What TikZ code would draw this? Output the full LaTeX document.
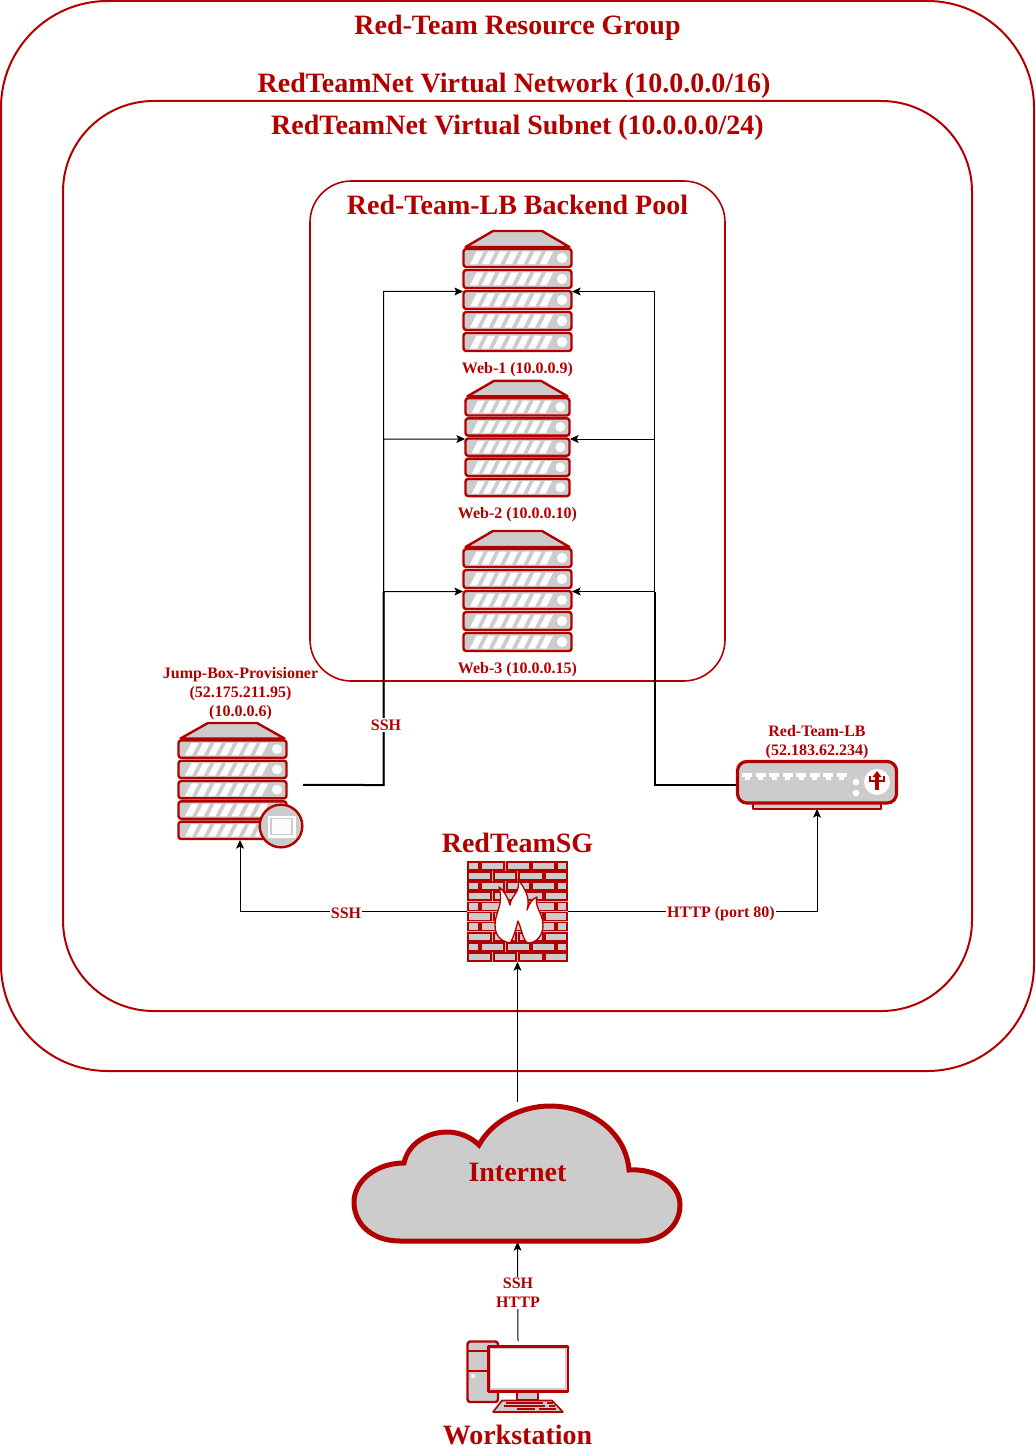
\documentclass[tikz,border=0pt]{standalone}
\usepackage{fontspec}
\setmainfont{Liberation Serif}
\usetikzlibrary{arrows.meta,positioning}
\definecolor{TeamRed}{HTML}{B20000}
\definecolor{IconGrey}{HTML}{CCCCCC}

\tikzset{
  Group/.style={draw=TeamRed, line width=1.5pt},
  Title/.style={text=TeamRed, font=\bfseries\fontsize{21}{25}\selectfont, inner sep=0pt},
  BigLabel/.style={text=TeamRed, font=\bfseries\fontsize{21}{25}\selectfont, inner sep=0pt},
  SmallLabel/.style={text=TeamRed, font=\bfseries\fontsize{12}{14.25}\selectfont, align=center, inner sep=0pt},
  LinkLabel/.style={SmallLabel, fill=white, inner sep=1pt},
  IconBox/.style={inner sep=0pt, outer sep=0pt},
  Icon/.style={draw=TeamRed, fill=IconGrey, line width=1.8pt, line join=round},
  Link/.style={draw=black, line width=.75pt, -{Stealth[length=6.5pt, width=6pt, inset=1.5pt]}},
  Trunk/.style={draw=black, line width=1.5pt},
  rack/.pic={
    \draw[Icon] (-24.5,-60.5) -- (24.5,-60.5) -- (52,-44.5) -- (-52,-44.5) -- cycle;
    \foreach \y in {-42.5,-21.5,-0.5,20.5,41.5} {
      \draw[Icon, rounded corners=2pt] (-54,\y) rectangle (54,\y+18);
      \fill[white] (44.5,\y+9) circle (3.8pt);
      \foreach \x in {0,...,6}
        \fill[white] (-47.5+11.6*\x,\y+15.5) -- ++(7,0) -- ++(6.5,-13) -- ++(-7,0) -- cycle;
    }
  },
}

\begin{document}
\begin{tikzpicture}[x=.75pt, y=-.75pt]
  \useasboundingbox (0,0) rectangle (1035,1451);

  % containers
  \draw[Group, rounded corners=80pt] (1,1) rectangle (1034,1071);
  \draw[Group, rounded corners=68pt] (63,101) rectangle (972,1011);
  \draw[Group, line width=1.2pt, rounded corners=31pt] (310,181) rectangle (725,681);

  \node[Title] (rgtitle) at (517.5,28) {Red-Team Resource Group};
  \node[Title] (nettitle) at (514,86) {RedTeamNet Virtual Network (10.0.0.0/16)};
  \node[Title] (subtitle) at (517.5,128) {RedTeamNet Virtual Subnet (10.0.0.0/24)};
  \node[Title] (pooltitle) at (517.5,205) {Red-Team-LB Backend Pool};

  % icon boxes
  \node[IconBox, minimum width=81.75pt, minimum height=90.75pt] (web1) at (517.5,291.5) {};
  \node[IconBox, minimum width=78.75pt, minimum height=87pt] (web2) at (517.5,439) {};
  \node[IconBox, minimum width=81.75pt, minimum height=90.75pt] (web3) at (517.5,591.5) {};
  \node[IconBox, minimum width=94.5pt, minimum height=87.75pt] (jump) at (240,781.5) {};
  \node[IconBox, minimum width=120pt, minimum height=36pt] (lb) at (817,785) {};
  \node[IconBox, minimum width=75.75pt, minimum height=75.75pt] (fwall) at (517.5,911.5) {};
  \node[IconBox, minimum width=247.5pt, minimum height=103.5pt] (cloud) at (517.5,1173) {};
  \node[IconBox, minimum width=76.5pt, minimum height=53.25pt] (wkst) at (518,1376.5) {};

  \coordinate (sshbus) at (383.5,785);
  \coordinate (lbbus) at (654.5,785);
  \coordinate (sshport) at ([yshift=-2.6pt]jump.east);

  % links
  \foreach \web in {web1,web2,web3} {
    \draw[Link] (sshport) -- (sshbus) |- (\web.west);
    \draw[Link] (lb.west) -- (lbbus) |- (\web.east);
  }
  \draw[Trunk] (sshport) -- (sshbus) -- (sshbus |- web3.west);
  \draw[Trunk] (lb.west) -- (lbbus) -- (lbbus |- web3.east);
  \draw[Link] (fwall.west) -| (jump.south);
  \draw[Link] (fwall.east) -| (lb.south);
  \draw[Link] ([yshift=1.5pt]cloud.north) -- (fwall.south);
  \draw[Link] (wkst.north) -- (cloud.south);

  \node[LinkLabel] (sshup) at (386,725) {SSH};
  \node[LinkLabel] (sshfw) at (346,913) {SSH};
  \node[LinkLabel] (httpfw) at (721,914) {HTTP (port 80)};
  \node[LinkLabel] (wkstlink) at (518,1293) {SSH\\HTTP};

  % servers
  \pic at (web1) {rack};
  \pic[xscale=.963, yscale=.96] at (web2) {rack};
  \pic at (web3) {rack};
  \pic[yscale=.967] at (232.5,781.5) {rack};
  \node[SmallLabel] (web1name) at (517.5,369.5) {Web-1 (10.0.0.9)};
  \node[SmallLabel] (web2name) at (517.5,514.5) {Web-2 (10.0.0.10)};
  \node[SmallLabel] (web3name) at (517.5,669.5) {Web-3 (10.0.0.15)};
  \node[SmallLabel] (jumpname) at (240.5,694) {Jump-Box-Provisioner\\(52.175.211.95)\\(10.0.0.6)};

  \draw[Icon] (281,826) circle (16pt);
  \fill[white] (267.5,815.5) rectangle (295.5,837.5);
  \draw[draw=IconGrey, fill=white!95!IconGrey, line width=1pt] (271,818.5) rectangle (292,834.5);

  % load balancer
  \node[SmallLabel] (lbname) at (817,742) {Red-Team-LB\\(52.183.62.234)};
  \draw[Icon] (753,803) rectangle (881,809);
  \draw[Icon, line width=2.4pt, rounded corners=7pt] (737.5,761.5) rectangle (896.5,803);
  \foreach \x in {747,760.5,...,842} {
    \fill[white] (\x-5,773) rectangle (\x+5,777);
    \fill[white] (\x-2.5,777) rectangle (\x+2.5,780);
  }
  \fill[white] (856,782) circle (2.5pt);
  \fill[white] (856,793) circle (2.5pt);
  \fill[white] (877,782) circle (9.7pt);
  \draw[TeamRed, line width=2.6pt] (877,776) -- (877,790);
  \draw[TeamRed, line width=2.2pt] (870,776) -- (870,781) -- (884,781) -- (884,776);
  \fill[TeamRed] (877,771) -- (881.5,777) -- (872.5,777) -- cycle;

  % firewall
  \node[BigLabel] (fwname) at (517.5,843) {RedTeamSG};
  \fill[TeamRed!30] (467,861) rectangle (568,962);
  \foreach \y in {862,882.2,902.4,922.6,942.8}
    \foreach \a/\b in {468/479,481/504,507/530,532/555,557/567}
      \draw[draw=TeamRed, fill=IconGrey, line width=1.3pt] (\a,\y) rectangle (\b,\y+8);
  \foreach \y in {872.1,892.3,912.5,932.7,952.9}
    \foreach \a/\b in {468/491,494/516,519/543,545/567}
      \draw[draw=TeamRed, fill=IconGrey, line width=1.3pt] (\a,\y) rectangle (\b,\y+8);
  \draw[draw=TeamRed, fill=white, line width=1pt, line join=round]
    (510,943) .. controls (500,941) and (495,935) .. (495,925)
    .. controls (495,912) and (504,905) .. (499,887)
    .. controls (505,892) and (508,898) .. (510,905)
    .. controls (511,895) and (521,893) .. (518,879)
    .. controls (524,888) and (531,897) .. (527,910)
    .. controls (529,904) and (532,899) .. (537,897)
    .. controls (534,907) and (543,913) .. (543,925)
    .. controls (543,936) and (536,943) .. (528,943)
    .. controls (523,941) and (522,930) .. (518,921)
    .. controls (516,928) and (514,937) .. (510,943) -- cycle;

  % internet
  \draw[draw=TeamRed, fill=IconGrey, line width=3.75pt, line join=miter]
    (400,1241) .. controls (372,1241) and (354,1224) .. (354,1202)
    .. controls (354,1182) and (375,1163) .. (404,1163)
    .. controls (408,1144) and (427,1132) .. (447,1132)
    .. controls (459,1132) and (471,1137) .. (479,1145)
    .. controls (492,1121) and (521,1106) .. (550,1106)
    .. controls (590,1106) and (626,1132) .. (629,1170)
    .. controls (656,1168) and (680,1184) .. (680,1205)
    .. controls (680,1226) and (662,1241) .. (640,1241) -- cycle;
  \node[BigLabel] (cloudname) at (517.5,1172) {Internet};

  % workstation
  \draw[Icon, rounded corners=2pt] (467.5,1341.5) rectangle (498,1402);
  \draw[TeamRed, line width=1.4pt] (467.5,1351) -- (490,1351) (467.5,1371) -- (490,1371);
  \fill[white] (473,1376) circle (1.5pt);
  \draw[Icon] (517,1391) rectangle (538,1400);
  \draw[Icon] (488.5,1346.5) rectangle (568,1391.5);
  \fill[white] (491,1349) rectangle (565,1388);
  \draw[draw=TeamRed, fill=IconGrey, line width=1.2pt, line join=round]
    (502,1400.5) -- (552,1400.5) -- (563,1412) -- (493,1412) -- cycle;
  \draw[TeamRed, line width=1.2pt] (506,1403) -- (543,1403) (547,1403) -- (553,1403)
    (504,1406) -- (545,1406) (549,1406) -- (555,1406)
    (517,1409) -- (535,1409) (539,1409) -- (556,1409);
  \node[BigLabel] (wkstname) at (517.5,1435) {Workstation};
\end{tikzpicture}
\end{document}
